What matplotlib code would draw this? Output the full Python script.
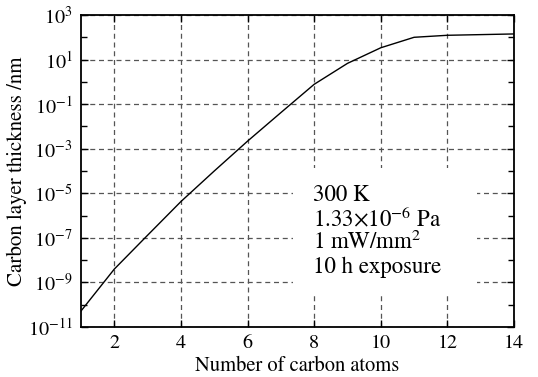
import numpy as np
import matplotlib
matplotlib.use("Agg")
import matplotlib.pyplot as plt
from matplotlib.patches import Rectangle
from matplotlib.ticker import FixedLocator, NullFormatter

plt.rcParams['font.family'] = ['STIXGeneral', 'DejaVu Serif']
plt.rcParams['mathtext.fontset'] = 'stix'

carbon_atoms = [1, 2, 3, 4, 5, 6, 7, 8, 9, 10, 11, 12, 13, 14]
log_thickness = [-10.28, -8.40, -6.88, -5.37, -4.0, -2.66, -1.38, -0.11,
                 0.83, 1.53, 2.0, 2.09, 2.12, 2.15]
x_ticks = [2, 4, 6, 8, 10, 12, 14]
y_exponents = [3, 1, -1, -3, -5, -7, -9, -11]
annotation_lines = ["300 K", r"1.33$\times$10$^{-6}$ Pa", r"1 mW/mm$^{2}$", "10 h exposure"]

thickness = [10.0 ** v for v in log_thickness]

fig = plt.figure(figsize=(5.38, 3.77), dpi=100)
ax = fig.add_axes([0.1506, 0.1326, 0.8048, 0.8276])

ax.plot(carbon_atoms, thickness, color='black', lw=1.0, zorder=3)
ax.set_yscale('log')
ax.set_xlim(1, 14)
ax.set_ylim(1e-11, 1e3)

ax.set_xticks(x_ticks)
ax.set_xticklabels([str(t) for t in x_ticks])
ax.yaxis.set_major_locator(FixedLocator([10.0 ** e for e in y_exponents]))
ax.set_yticklabels([r"$10^{%d}$" % e for e in y_exponents])
ax.yaxis.set_minor_locator(FixedLocator([10.0 ** e for e in range(-10, 3, 2)]))
ax.yaxis.set_minor_formatter(NullFormatter())

ax.tick_params(axis='both', which='major', direction='in', length=5, width=1,
               top=True, right=True, labelsize=14.5, pad=6)
ax.tick_params(axis='y', which='minor', direction='in', length=4, width=1,
               left=True, right=True)
ax.tick_params(axis='x', which='minor', bottom=False, top=False)

ax.grid(True, which='major', linestyle=(0, (4, 3)), color='#555555', lw=0.9, zorder=0.5)
ax.set_axisbelow(True)
for s in ax.spines.values():
    s.set_linewidth(1.3)

ax.add_patch(Rectangle((0.49, 0.109), 0.425, 0.40, transform=ax.transAxes,
                       facecolor='white', edgecolor='none', zorder=1))

ys = [0.423, 0.346, 0.270, 0.190]
for line, yy in zip(annotation_lines, ys):
    ax.text(0.536, yy, line, transform=ax.transAxes, fontsize=16.5,
            va='center', ha='left', zorder=4)

ax.set_xlabel("Number of carbon atoms", fontsize=14.8, labelpad=2.5)
ax.set_ylabel("Carbon layer thickness /nm", fontsize=15, labelpad=1)

fig.savefig("out.png", dpi=100, facecolor='white')
